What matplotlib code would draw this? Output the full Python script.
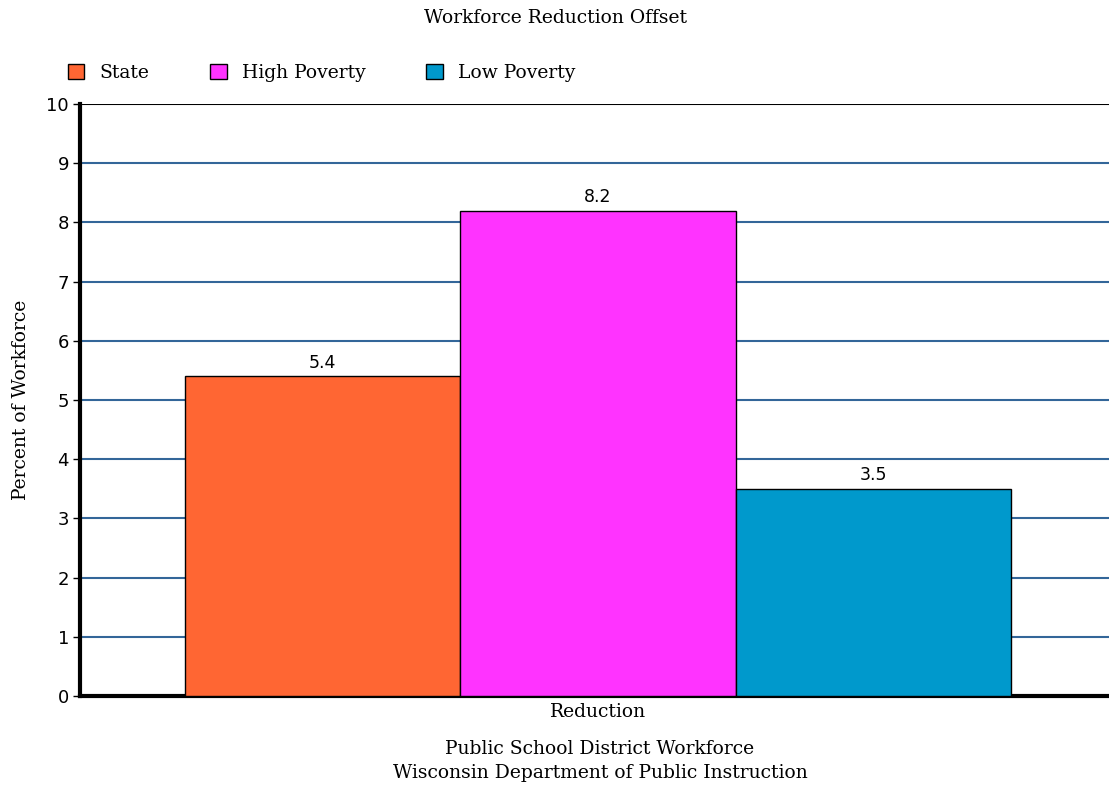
import matplotlib
matplotlib.use("Agg")
import matplotlib.pyplot as plt

# Chart data
categories = ["Reduction"]
series_names = ["State", "High Poverty", "Low Poverty"]
series_values = [5.4, 8.2, 3.5]
series_colors = ["#FF6633", "#FF33FF", "#0099CC"]
y_ticks = [0, 1, 2, 3, 4, 5, 6, 7, 8, 9, 10]

SERIF = "DejaVu Serif"
SANS = "DejaVu Sans"
FS = 13.5

W, H = 1109, 788
fig = plt.figure(figsize=(W / 100, H / 100), dpi=100)
ax = fig.add_axes([80 / W, 1 - 696 / H, (W - 80) / W, (696 - 104) / H])

bar_w = 1.0
offsets = [-bar_w, 0.0, bar_w]
bars = []
for name, val, col, off in zip(series_names, series_values, series_colors, offsets):
    b = ax.bar(off, val, width=bar_w, color=col, edgecolor="black",
               linewidth=1.0, label=name, zorder=3)
    bars.append(b)
    ax.text(off, val + 0.08, f"{val:.1f}", ha="center", va="bottom",
            fontsize=12.5, family=SANS, color="black", zorder=4)

ax.set_ylim(0, 10)
ax.set_xlim(-(598 - 80) / 275.3, (W - 598) / 275.3)
ax.set_yticks(y_ticks)
ax.set_yticklabels([str(t) for t in y_ticks], family=SANS, fontsize=13)
ax.set_xticks([0])
ax.set_xticklabels(categories, family=SERIF, fontsize=FS)
ax.tick_params(axis="x", length=0, pad=5)
ax.tick_params(axis="y", length=5, width=1, pad=3)

# horizontal grid lines
for t in y_ticks[1:-1]:
    ax.axhline(t, color="#336699", linewidth=1.5, zorder=1)
ax.axhline(10, color="black", linewidth=1.5, zorder=1)

for s in ["top", "right"]:
    ax.spines[s].set_visible(False)
ax.spines["left"].set_linewidth(3)
ax.spines["bottom"].set_linewidth(3)

ax.set_ylabel("Percent of Workforce", family=SERIF, fontsize=FS, labelpad=12)

fig.text(556 / W, 1 - 18 / H, "Workforce Reduction Offset", ha="center",
         va="center", family=SERIF, fontsize=FS)
fig.text(600 / W, 1 - 749 / H, "Public School District Workforce", ha="center",
         va="center", family=SERIF, fontsize=FS)
fig.text(600 / W, 1 - 773 / H, "Wisconsin Department of Public Instruction",
         ha="center", va="center", family=SERIF, fontsize=FS)

leg = fig.legend(handles=[b[0] for b in bars], labels=series_names,
                 loc="upper left", bbox_to_anchor=(51 / W, 1 - 47 / H),
                 ncol=3, frameon=False, handlelength=0.88, handleheight=0.88,
                 handletextpad=0.8, columnspacing=3.25,
                 prop={"family": SERIF, "size": FS})

fig.savefig("out.png", dpi=100)
